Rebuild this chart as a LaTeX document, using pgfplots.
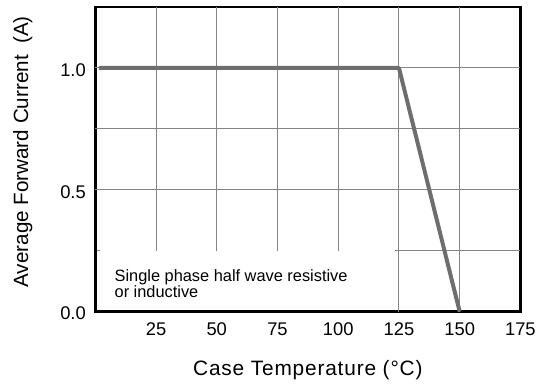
\documentclass[border=0pt]{standalone}
\usepackage{pgfplots}
\pgfplotsset{compat=1.18}
\usepackage{fontspec}
\setmainfont{Liberation Sans}
\definecolor{gridgray}{HTML}{858585}
\definecolor{linegray}{HTML}{6E6E6E}
\begin{document}
\begin{tikzpicture}
\begin{axis}[
  scale only axis,
  width=427bp, height=306bp,
  xmin=0, xmax=175, ymin=0, ymax=1.25,
  axis line style={line width=2.8bp, black},
  xtick={25,50,75,100,125,150,175},
  ytick={0,0.5,1},
  minor ytick={0.25,0.75},
  tick align=inside,
  xtick style={draw=none},
  ytick style={line width=1bp, gridgray},
  major tick length=5bp, minor tick length=5bp,
  /pgf/number format/assume math mode=true,
  y tick label style={/pgf/number format/fixed, /pgf/number format/fixed zerofill, /pgf/number format/precision=1, xshift=-6bp, yshift=-2bp},
  tick label style={font=\fontsize{18.5}{20}\selectfont},
  xticklabel style={yshift=-8bp},
  xlabel={Case Temperature (°C)},
  ylabel={Average Forward Current\ \ (A)},
  xlabel style={font=\addfontfeatures{LetterSpace=4}\fontsize{21}{23}\selectfont,
    at={(axis description cs:0.5,-0.210)}, anchor=base},
  ylabel style={font=\fontsize{20.8}{22}\selectfont,
    at={(axis description cs:-0.158,0.5245)}, anchor=base},
  clip=false,
]
% grid (partial, as in the reference)
\draw[gridgray, line width=1bp]
  (axis cs:25,0.25) -- (axis cs:25,1.25)
  (axis cs:50,0.25) -- (axis cs:50,1.25)
  (axis cs:75,0.25) -- (axis cs:75,1.25)
  (axis cs:100,0.25) -- (axis cs:100,1.25)
  (axis cs:125,0) -- (axis cs:125,1.25)
  (axis cs:150,0) -- (axis cs:150,1.25)
  (axis cs:0,0.5) -- (axis cs:175,0.5)
  (axis cs:0,0.75) -- (axis cs:175,0.75)
  (axis cs:0,1) -- (axis cs:175,1)
  (axis cs:123.5,0.25) -- (axis cs:175,0.25);
\addplot[linegray, line width=4bp, line join=round] coordinates {(1.5,1) (125,1) (150,0)};
\node[anchor=base west, align=left, font=\fontsize{16.5}{15}\selectfont, inner sep=0pt]
  at (axis cs:7.9,0.056) {Single phase half wave resistive\\or inductive};
\end{axis}
\path[use as bounding box] (-95.7bp,-72bp) rectangle (443.3bp,313bp);
\end{tikzpicture}
\end{document}
